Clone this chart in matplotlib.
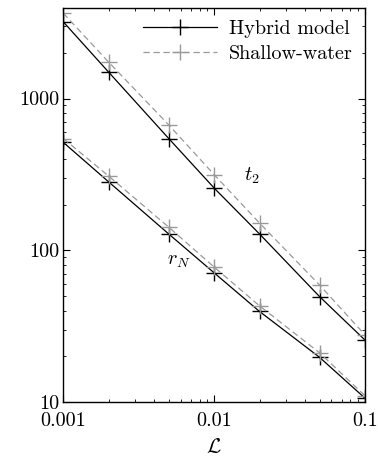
import numpy as np
import matplotlib
matplotlib.use("Agg")
import matplotlib.pyplot as plt
from matplotlib.ticker import LogLocator, NullFormatter

plt.rcParams['font.family'] = 'serif'
plt.rcParams['font.serif'] = ['cmr10']
plt.rcParams['mathtext.fontset'] = 'cm'
plt.rcParams['axes.formatter.use_mathtext'] = True

# data
L = [0.001, 0.002, 0.005, 0.01, 0.02, 0.05, 0.1]
t2_hybrid = [3200, 1490, 545, 257, 128, 49.5, 25.6]
t2_shallow = [3650, 1735, 670, 315, 151, 59, 27.7]
rN_hybrid = [514, 282, 128, 71, 39.5, 19.7, 10.6]
rN_shallow = [545, 308, 142, 77.5, 43, 21.1, 11.0]

xticks = [0.001, 0.01, 0.1]
xticklabels = ['0.001', '0.01', '0.1']
yticks = [10, 100, 1000]
yticklabels = ['10', '100', '1000']

fig = plt.figure(figsize=(3.78, 4.59), dpi=100)
ax = fig.add_axes([0.1675, 0.1242, 0.798, 0.8584])

gray = '0.6'
ax.plot(L, t2_hybrid, '-', color='k', lw=0.9, marker='+', ms=11, mew=1.0, label='Hybrid model')
ax.plot(L, t2_shallow, '--', color=gray, lw=0.9, marker='+', ms=11, mew=1.0, dashes=(5, 3), label='Shallow-water')
ax.plot(L, rN_hybrid, '-', color='k', lw=0.9, marker='+', ms=11, mew=1.0)
ax.plot(L, rN_shallow, '--', color=gray, lw=0.9, marker='+', ms=11, mew=1.0, dashes=(5, 3))

ax.set_xscale('log')
ax.set_yscale('log')
ax.set_xlim(0.001, 0.1)
ax.set_ylim(10, 3950)

ax.set_xticks(xticks)
ax.set_xticklabels(xticklabels)
ax.set_yticks(yticks)
ax.set_yticklabels(yticklabels)
ax.xaxis.set_minor_locator(LogLocator(base=10, subs=np.arange(2, 10)))
ax.yaxis.set_minor_locator(LogLocator(base=10, subs=np.arange(2, 10)))
ax.xaxis.set_minor_formatter(NullFormatter())
ax.yaxis.set_minor_formatter(NullFormatter())
ax.tick_params(which='both', direction='in', top=True, right=True, labelsize=14.5)
ax.tick_params(which='major', length=5, width=0.8)
ax.tick_params(which='minor', length=2.5, width=0.6)
ax.tick_params(axis='x', pad=7)
ax.tick_params(axis='y', pad=3)
for s in ax.spines.values():
    s.set_linewidth(1.0)

ax.text(0.0157, 290, '$t_2$', fontsize=14.5)
ax.text(0.0049, 80, '$r_N$', fontsize=14.5)
ax.set_xlabel(r'$\mathcal{L}$', fontsize=15, labelpad=6)

ax.legend(loc='upper right', frameon=False, fontsize=14.5, handlelength=3.7,
          handletextpad=0.6, borderaxespad=0.2, labelspacing=0.35)

fig.savefig('out.png', dpi=100)
